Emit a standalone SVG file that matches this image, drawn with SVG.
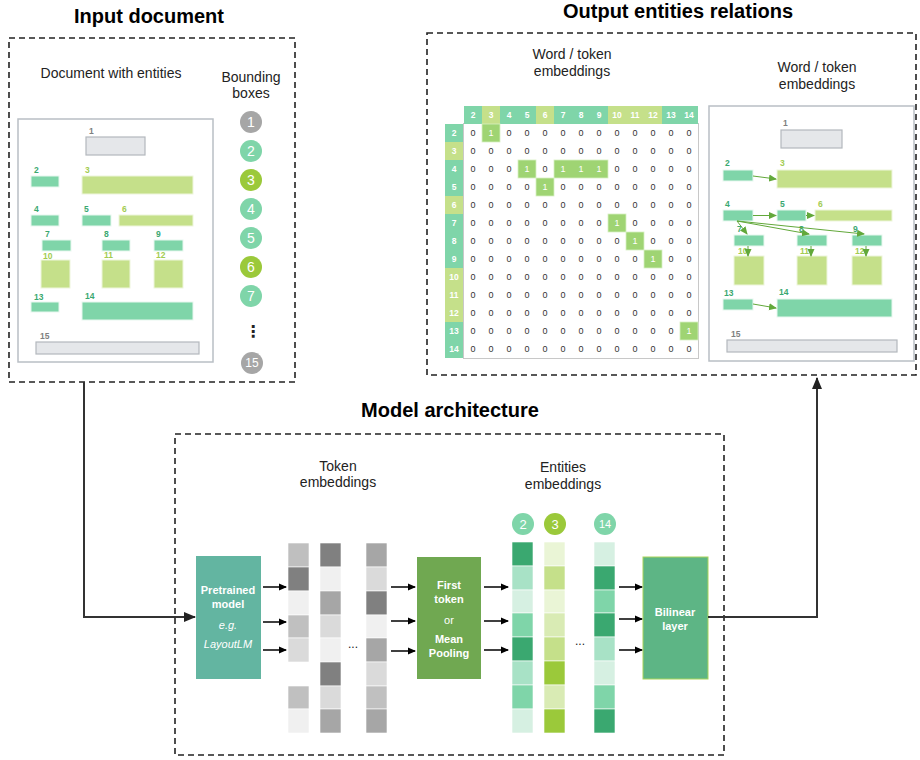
<svg xmlns="http://www.w3.org/2000/svg" width="920" height="760" viewBox="0 0 920 760">
<defs>
<style>
text{font-family:"Liberation Sans",Arial,sans-serif}
.title{font-size:20px;font-weight:bold;fill:#000;text-anchor:middle}
.sub{font-size:14px;fill:#222;text-anchor:middle}
.dash{fill:none;stroke:#222;stroke-width:1.6;stroke-dasharray:6 4}
.page{fill:#fff;stroke:#b9bfc5;stroke-width:1.5}
.gr{fill:#e5e7ea;stroke:#b3b8bd;stroke-width:1.2}
.tl{fill:#7fd5a9;stroke:#e8f7ef;stroke-width:1}
.lg{fill:#c5e08a;stroke:#eef6dc;stroke-width:1}
.ltl{font-size:8.5px;font-weight:bold;fill:#3aa870}
.llg{font-size:8.5px;font-weight:bold;fill:#a3cc50}
.lgr{font-size:8.5px;font-weight:bold;fill:#808080}
.cnum{font-size:14px;fill:#fff;text-anchor:middle}
.hd{font-size:8.5px;font-weight:bold;fill:#fff;text-anchor:middle}
.z{font-size:9px;fill:#333;text-anchor:middle}
.one{font-size:9px;fill:#fff;text-anchor:middle}
.cell1{fill:#9fd473;stroke:#d7efc2;stroke-width:0.8}
.ga{stroke:#62a83a;stroke-width:1;fill:none;marker-end:url(#ga)}
.ba{stroke:#000;stroke-width:1.5;fill:none;marker-end:url(#ba)}
.main{stroke:#333;stroke-width:2;fill:none;marker-end:url(#ma)}
.bw{font-size:11px;font-weight:bold;fill:#fff;text-anchor:middle}
.iw{font-size:11px;font-style:italic;fill:#fff;text-anchor:middle}
.nw{font-size:11px;fill:#fff;text-anchor:middle}
</style>
<marker id="ga" markerWidth="8" markerHeight="8" refX="7" refY="4" orient="auto" markerUnits="userSpaceOnUse"><path d="M0,0.5 L8,4 L0,7.5z" fill="#62a83a"/></marker>
<marker id="ba" markerWidth="8" markerHeight="8" refX="7" refY="4" orient="auto" markerUnits="userSpaceOnUse"><path d="M0,0.5 L8,4 L0,7.5z" fill="#000"/></marker>
<marker id="ma" markerWidth="12" markerHeight="12" refX="11" refY="6" orient="auto" markerUnits="userSpaceOnUse"><path d="M0,1 L12,6 L0,11z" fill="#222"/></marker>
</defs>
<rect width="920" height="760" fill="#fff"/>

<!-- Input document -->
<g id="input-document">
<text class="title" x="149" y="23">Input document</text>
<rect class="dash" x="9" y="38" width="286" height="344"/>
<text class="sub" x="111" y="78">Document with entities</text>
<text class="sub" x="251" y="82">Bounding</text>
<text class="sub" x="251" y="98">boxes</text>
<rect class="page" x="18" y="119" width="195" height="243"/>
<text class="lgr" x="89" y="134">1</text><rect class="gr" x="86" y="137" width="59" height="18"/>
<text class="ltl" x="34" y="173">2</text><rect class="tl" x="31" y="176" width="28" height="11"/>
<text class="llg" x="85" y="173">3</text><rect class="lg" x="82" y="176" width="111" height="18"/>
<text class="ltl" x="34" y="212">4</text><rect class="tl" x="31" y="215" width="28" height="11"/>
<text class="ltl" x="84" y="212">5</text><rect class="tl" x="82" y="215" width="29" height="11"/>
<text class="llg" x="122" y="212">6</text><rect class="lg" x="119" y="215" width="74" height="11"/>
<text class="ltl" x="45" y="237">7</text><rect class="tl" x="42" y="240" width="29" height="11"/>
<text class="ltl" x="104" y="237">8</text><rect class="tl" x="102" y="240" width="28" height="11"/>
<text class="ltl" x="156" y="237">9</text><rect class="tl" x="154" y="240" width="29" height="11"/>
<text class="llg" x="43" y="259">10</text><rect class="lg" x="41" y="260" width="29" height="28"/>
<text class="llg" x="104" y="258">11</text><rect class="lg" x="102" y="260" width="28" height="28"/>
<text class="llg" x="156" y="258">12</text><rect class="lg" x="154" y="260" width="29" height="28"/>
<text class="ltl" x="34" y="300">13</text><rect class="tl" x="31" y="302" width="28" height="10"/>
<text class="ltl" x="85" y="299">14</text><rect class="tl" x="82" y="302" width="111" height="18"/>
<text class="lgr" x="40" y="339">15</text><rect class="gr" x="36" y="342" width="163" height="12"/>
</g>

<g id="bounding-boxes">
<circle cx="251" cy="122" r="11" fill="#a6a6a6"/><text class="cnum" x="251" y="127">1</text>
<circle cx="251" cy="151" r="11" fill="#7fd5a9"/><text class="cnum" x="251" y="156">2</text>
<circle cx="251" cy="180" r="11" fill="#9bc93a"/><text class="cnum" x="251" y="185">3</text>
<circle cx="251" cy="209" r="11" fill="#7fd5a9"/><text class="cnum" x="251" y="214">4</text>
<circle cx="251" cy="238" r="11" fill="#7fd5a9"/><text class="cnum" x="251" y="243">5</text>
<circle cx="251" cy="267" r="11" fill="#9bc93a"/><text class="cnum" x="251" y="272">6</text>
<circle cx="251" cy="296" r="11" fill="#7fd5a9"/><text class="cnum" x="251" y="301">7</text>
<text x="253" y="337" font-size="16" font-weight="bold" text-anchor="middle" fill="#222" style="font-family:'DejaVu Sans',sans-serif">⋮</text>
<circle cx="252" cy="363" r="11" fill="#a6a6a6"/><text class="cnum" x="252" y="367" style="font-size:12px">15</text>
</g>

<!-- Output -->
<g id="output-entities-relations">
<text class="title" x="678" y="18">Output entities relations</text>
<rect class="dash" x="427" y="33" width="489" height="342"/>
<text class="sub" x="572" y="59">Word / token</text>
<text class="sub" x="572" y="76">embeddings</text>
<text class="sub" x="817" y="72">Word / token</text>
<text class="sub" x="817" y="89">embeddings</text>
</g>

<g id="relation-matrix">
<rect x="463.5" y="123.5" width="235" height="235" fill="#fff" stroke="#c8c8c8" stroke-width="1"/>
<rect x="464" y="106" width="18" height="18" fill="#7fd5a9"/>
<rect x="482" y="106" width="18" height="18" fill="#c5e08a"/>
<rect x="500" y="106" width="36" height="18" fill="#7fd5a9"/>
<rect x="536" y="106" width="18" height="18" fill="#c5e08a"/>
<rect x="554" y="106" width="54" height="18" fill="#7fd5a9"/>
<rect x="608" y="106" width="54" height="18" fill="#c5e08a"/>
<rect x="662" y="106" width="36" height="18" fill="#7fd5a9"/>
<text class="hd" x="473 491 509 527 545 563 581 599" y="118">23456789</text>
<text class="hd" x="617" y="118">10</text><text class="hd" x="635" y="118">11</text><text class="hd" x="653" y="118">12</text><text class="hd" x="671" y="118">13</text><text class="hd" x="689" y="118">14</text>
<rect x="445" y="124" width="18" height="18" fill="#7fd5a9"/>
<rect x="445" y="142" width="18" height="18" fill="#c5e08a"/>
<rect x="445" y="160" width="18" height="36" fill="#7fd5a9"/>
<rect x="445" y="196" width="18" height="18" fill="#c5e08a"/>
<rect x="445" y="214" width="18" height="54" fill="#7fd5a9"/>
<rect x="445" y="268" width="18" height="54" fill="#c5e08a"/>
<rect x="445" y="322" width="18" height="36" fill="#7fd5a9"/>
<text class="hd" x="454" y="136">2</text><text class="hd" x="454" y="154">3</text><text class="hd" x="454" y="172">4</text><text class="hd" x="454" y="190">5</text><text class="hd" x="454" y="208">6</text><text class="hd" x="454" y="226">7</text><text class="hd" x="454" y="244">8</text><text class="hd" x="454" y="262">9</text><text class="hd" x="454" y="280">10</text><text class="hd" x="454" y="298">11</text><text class="hd" x="454" y="316">12</text><text class="hd" x="454" y="334">13</text><text class="hd" x="454" y="352">14</text>
<rect class="cell1" x="482" y="124" width="18" height="18"/>
<rect class="cell1" x="518" y="160" width="18" height="18"/>
<rect class="cell1" x="554" y="160" width="54" height="18"/>
<rect class="cell1" x="536" y="178" width="18" height="18"/>
<rect class="cell1" x="608" y="214" width="18" height="18"/>
<rect class="cell1" x="626" y="232" width="18" height="18"/>
<rect class="cell1" x="644" y="250" width="18" height="18"/>
<rect class="cell1" x="680" y="322" width="18" height="18"/>
<text class="one" x="491" y="136">1</text>
<text class="one" x="527" y="172">1</text>
<text class="one" x="563 581 599" y="172">111</text>
<text class="one" x="545" y="190">1</text>
<text class="one" x="617" y="226">1</text>
<text class="one" x="635" y="244">1</text>
<text class="one" x="653" y="262">1</text>
<text class="one" x="689" y="334">1</text>
<text class="z" x="473" y="136">0</text>
<text class="z" x="509 527 545 563 581 599 617 635 653 671 689" y="136">00000000000</text>
<text class="z" x="473 491 509 527 545 563 581 599 617 635 653 671 689" y="154">0000000000000</text>
<text class="z" x="473 491 509" y="172">000</text>
<text class="z" x="545" y="172">0</text>
<text class="z" x="617 635 653 671 689" y="172">00000</text>
<text class="z" x="473 491 509 527" y="190">0000</text>
<text class="z" x="563 581 599 617 635 653 671 689" y="190">00000000</text>
<text class="z" x="473 491 509 527 545 563 581 599 617 635 653 671 689" y="208">0000000000000</text>
<text class="z" x="473 491 509 527 545 563 581 599" y="226">00000000</text>
<text class="z" x="635 653 671 689" y="226">0000</text>
<text class="z" x="473 491 509 527 545 563 581 599 617" y="244">000000000</text>
<text class="z" x="653 671 689" y="244">000</text>
<text class="z" x="473 491 509 527 545 563 581 599 617 635" y="262">0000000000</text>
<text class="z" x="671 689" y="262">00</text>
<text class="z" x="473 491 509 527 545 563 581 599 617 635 653 671 689" y="280">0000000000000</text>
<text class="z" x="473 491 509 527 545 563 581 599 617 635 653 671 689" y="298">0000000000000</text>
<text class="z" x="473 491 509 527 545 563 581 599 617 635 653 671 689" y="316">0000000000000</text>
<text class="z" x="473 491 509 527 545 563 581 599 617 635 653 671" y="334">000000000000</text>
<text class="z" x="473 491 509 527 545 563 581 599 617 635 653 671 689" y="352">0000000000000</text>
</g>

<g id="output-document">
<rect class="page" x="709" y="106" width="205" height="255"/>
<text class="lgr" x="783" y="126">1</text><rect class="gr" x="781" y="130" width="61" height="18"/>
<text class="ltl" x="725" y="166">2</text><rect class="tl" x="723" y="170" width="30" height="11"/>
<text class="llg" x="780" y="166">3</text><rect class="lg" x="777" y="170" width="115" height="18"/>
<text class="ltl" x="725" y="207">4</text><rect class="tl" x="723" y="210" width="30" height="11"/>
<text class="ltl" x="780" y="207">5</text><rect class="tl" x="777" y="210" width="29" height="11"/>
<text class="llg" x="818" y="207">6</text><rect class="lg" x="815" y="210" width="77" height="11"/>
<text class="ltl" x="737" y="232">7</text><rect class="tl" x="734" y="235" width="30" height="11"/>
<text class="ltl" x="799" y="232">8</text><rect class="tl" x="797" y="235" width="30" height="11"/>
<text class="ltl" x="853" y="232">9</text><rect class="tl" x="852" y="235" width="30" height="11"/>
<text class="llg" x="738" y="254">10</text><rect class="lg" x="734" y="256" width="30" height="29"/>
<text class="llg" x="800" y="254">11</text><rect class="lg" x="797" y="256" width="30" height="29"/>
<text class="llg" x="855" y="254">12</text><rect class="lg" x="852" y="256" width="30" height="29"/>
<text class="ltl" x="724" y="296">13</text><rect class="tl" x="723" y="299" width="30" height="11"/>
<text class="ltl" x="779" y="295">14</text><rect class="tl" x="777" y="299" width="115" height="18"/>
<text class="lgr" x="731" y="337">15</text><rect class="gr" x="727" y="340" width="170" height="12"/>
</g>
<g id="relation-arrows">
<path class="ga" d="M753,176 L776,179"/>
<path class="ga" d="M753,215.5 L776,215.5"/>
<path class="ga" d="M806,215.5 L814,215.5"/>
<path class="ga" d="M737,221 L747,234"/>
<path class="ga" d="M737,221 L809,234"/>
<path class="ga" d="M737,221 L864,234"/>
<path class="ga" d="M748,246 L748,256"/>
<path class="ga" d="M811,246 L811,256"/>
<path class="ga" d="M866,246 L866,256"/>
<path class="ga" d="M753,304 L776,308"/>
</g>

<!-- Model architecture -->
<g id="model-architecture">
<text class="title" x="450" y="417">Model architecture</text>
<rect class="dash" x="175" y="434" width="549" height="321"/>
<text class="sub" x="338" y="471">Token</text>
<text class="sub" x="338" y="487">embeddings</text>
<text class="sub" x="563" y="472">Entities</text>
<text class="sub" x="563" y="489">embeddings</text>
</g>

<g id="pretrained-model">
<rect x="196" y="556" width="65" height="123" fill="#63b5a1"/>
<text class="bw" x="228" y="594">Pretrained</text>
<text class="bw" x="228" y="608">model</text>
<text class="iw" x="228" y="629">e.g.</text>
<text class="iw" x="228" y="648">LayoutLM</text>
</g>

<g id="token-embeddings">
<g stroke="#fff" stroke-width="0.6">
<rect x="288" y="543" width="21" height="24" fill="#bfbfbf"/>
<rect x="288" y="567" width="21" height="24" fill="#808080"/>
<rect x="288" y="591" width="21" height="24" fill="#f0f0f0"/>
<rect x="288" y="615" width="21" height="23" fill="#c0c0c0"/>
<rect x="288" y="638" width="21" height="24" fill="#dadada"/>
<rect x="288" y="686" width="21" height="23" fill="#c0c0c0"/>
<rect x="288" y="709" width="21" height="24" fill="#f0f0f0"/>
<rect x="320" y="543" width="21" height="24" fill="#808080"/>
<rect x="320" y="567" width="21" height="24" fill="#f0f0f0"/>
<rect x="320" y="591" width="21" height="24" fill="#a6a6a6"/>
<rect x="320" y="615" width="21" height="23" fill="#dadada"/>
<rect x="320" y="638" width="21" height="24" fill="#f0f0f0"/>
<rect x="320" y="662" width="21" height="24" fill="#808080"/>
<rect x="320" y="686" width="21" height="23" fill="#dadada"/>
<rect x="320" y="709" width="21" height="24" fill="#a6a6a6"/>
<rect x="366" y="543" width="21" height="24" fill="#a6a6a6"/>
<rect x="366" y="567" width="21" height="24" fill="#dadada"/>
<rect x="366" y="591" width="21" height="24" fill="#808080"/>
<rect x="366" y="615" width="21" height="23" fill="#f0f0f0"/>
<rect x="366" y="638" width="21" height="24" fill="#a6a6a6"/>
<rect x="366" y="662" width="21" height="24" fill="#dadada"/>
<rect x="366" y="686" width="21" height="23" fill="#c0c0c0"/>
<rect x="366" y="709" width="21" height="24" fill="#a6a6a6"/>
</g>
<text x="353" y="648" font-size="12" text-anchor="middle" fill="#222">...</text>
</g>

<g id="pooling">
<rect x="417" y="557" width="64" height="122" fill="#70a851"/>
<text class="bw" x="449" y="589">First</text>
<text class="bw" x="449" y="603">token</text>
<text class="nw" x="449" y="624">or</text>
<text class="bw" x="449" y="643">Mean</text>
<text class="bw" x="449" y="657">Pooling</text>
</g>

<g id="entities-embeddings">
<circle cx="523" cy="524" r="11" fill="#7fd5a9"/><text class="cnum" x="523" y="529" style="font-size:13px">2</text>
<circle cx="555" cy="524" r="11" fill="#9bc93a"/><text class="cnum" x="555" y="529" style="font-size:13px">3</text>
<circle cx="605" cy="524" r="11" fill="#7fd5a9"/><text class="cnum" x="605" y="528" style="font-size:11px">14</text>
<g stroke="#fff" stroke-width="0.6">
<rect x="512" y="542" width="21" height="24" fill="#3aa870"/>
<rect x="512" y="566" width="21" height="24" fill="#a8e2c6"/>
<rect x="512" y="590" width="21" height="23" fill="#d6f0e2"/>
<rect x="512" y="613" width="21" height="24" fill="#7fd5a9"/>
<rect x="512" y="637" width="21" height="24" fill="#3aa870"/>
<rect x="512" y="661" width="21" height="24" fill="#a8e2c6"/>
<rect x="512" y="685" width="21" height="24" fill="#7fd5a9"/>
<rect x="512" y="709" width="21" height="24" fill="#d6f0e2"/>
<rect x="544" y="542" width="21" height="24" fill="#eaf5d6"/>
<rect x="544" y="566" width="21" height="24" fill="#c5e08a"/>
<rect x="544" y="590" width="21" height="23" fill="#eaf5d6"/>
<rect x="544" y="613" width="21" height="24" fill="#d9ebb4"/>
<rect x="544" y="637" width="21" height="24" fill="#c5e08a"/>
<rect x="544" y="661" width="21" height="24" fill="#9bc93a"/>
<rect x="544" y="685" width="21" height="24" fill="#d9ebb4"/>
<rect x="544" y="709" width="21" height="24" fill="#9bc93a"/>
<rect x="594" y="542" width="21" height="24" fill="#d6f0e2"/>
<rect x="594" y="566" width="21" height="24" fill="#3aa870"/>
<rect x="594" y="590" width="21" height="23" fill="#7fd5a9"/>
<rect x="594" y="613" width="21" height="24" fill="#3aa870"/>
<rect x="594" y="637" width="21" height="24" fill="#a8e2c6"/>
<rect x="594" y="661" width="21" height="24" fill="#d6f0e2"/>
<rect x="594" y="685" width="21" height="24" fill="#7fd5a9"/>
<rect x="594" y="709" width="21" height="24" fill="#3aa870"/>
</g>
<text x="580" y="645" font-size="12" text-anchor="middle" fill="#222">...</text>
</g>

<g id="bilinear-layer">
<rect x="643" y="557" width="65" height="122" fill="#5db585" stroke="#a9d45a" stroke-width="1"/>
<text class="bw" x="675" y="616">Bilinear</text>
<text class="bw" x="675" y="630">layer</text>
</g>

<g id="connectors">
<path class="main" d="M84,382 L84,617 L195,617"/>
<path class="main" d="M708,617 L817,617 L817,378"/>
<path class="ba" d="M263,587 L286,587"/>
<path class="ba" d="M263,622 L286,622"/>
<path class="ba" d="M263,650 L286,650"/>
<path class="ba" d="M391,587 L415,587"/>
<path class="ba" d="M391,621 L415,621"/>
<path class="ba" d="M391,651 L415,651"/>
<path class="ba" d="M484,587 L508,587"/>
<path class="ba" d="M484,621 L508,621"/>
<path class="ba" d="M484,650 L508,650"/>
<path class="ba" d="M619,587 L642,587"/>
<path class="ba" d="M619,619 L642,619"/>
<path class="ba" d="M619,650 L642,650"/>
</g>
</svg>
